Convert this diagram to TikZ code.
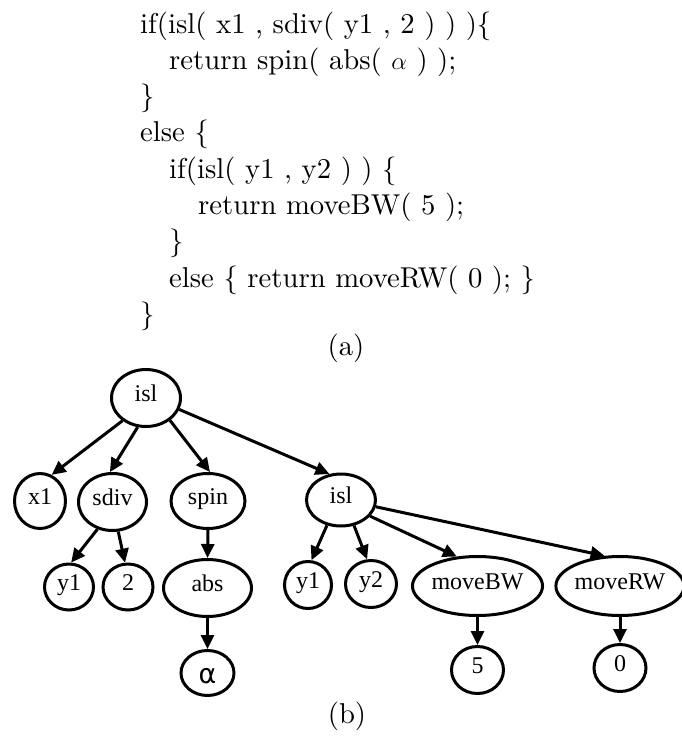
\documentclass[tikz,border=0pt]{standalone}
\usepackage{fontspec}
\setmainfont{lmroman10-regular.otf}
\newfontfamily\labelfont{Liberation Serif}
\newfontfamily\greekfont{DejaVu Sans}
\usetikzlibrary{shapes.geometric,arrows.meta}
\begin{document}
\begin{tikzpicture}[x=1pt,y=-1pt,
  codeline/.style={anchor=base west,inner sep=0pt,font=\fontsize{28.7}{36}\selectfont},
  caption/.style={anchor=base,inner sep=0pt,font=\fontsize{28.7}{36}\selectfont},
  tn/.style={draw,ellipse,line width=3pt,inner sep=0pt,
    font=\labelfont\fontsize{24}{28}\selectfont,text height=0.62em,text depth=0pt},
  edge/.style={line width=3pt,-{Triangle[length=14pt,width=13pt]}}
]
\useasboundingbox (0,0) rectangle (682,742);

% program listing
\node[codeline] (c1) at (140,33)  {if(isl( x1 , sdiv( y1 , 2 ) ) )\{};
\node[codeline] (c2) at (169,69.3) {return spin( abs( $\alpha$ ) );};
\node[codeline] (c3) at (140,105.6) {\}};
\node[codeline] (c4) at (140,141.9) {else \{};
\node[codeline] (c5) at (169,178.2) {if(isl( y1 , y2 ) ) \{};
\node[codeline] (c6) at (198,214.5) {return moveBW( 5 );};
\node[codeline] (c7) at (169,250.8) {\}};
\node[codeline] (c8) at (169,287.1) {else \{ return moveRW( 0 ); \}};
\node[codeline] (c9) at (140,323.4) {\}};
\node[caption] (capa) at (346,355) {(a)};

% expression tree
\node[tn,minimum width=69pt,minimum height=57pt] (root) at (146,398) {isl};
\node[tn,minimum width=51pt,minimum height=55pt] (x1) at (40,501) {x1};
\node[tn,minimum width=68pt,minimum height=57pt] (sdiv) at (112.5,502) {sdiv};
\node[tn,minimum width=74pt,minimum height=55pt] (spin) at (208,501) {spin};
\node[tn,minimum width=69pt,minimum height=52pt] (isl2) at (341,500) {isl};
\node[tn,minimum width=49pt,minimum height=46pt] (y1a) at (69,587) {y1};
\node[tn,minimum width=50pt,minimum height=46pt] (two) at (128,587) {2};
\node[tn,minimum width=88pt,minimum height=57pt] (abs) at (207.5,588) {abs};
\node[tn,minimum width=47pt,minimum height=47pt] (y1b) at (308,585) {y1};
\node[tn,minimum width=51pt,minimum height=47pt] (y2) at (371,584) {y2};
\node[tn,minimum width=126pt,minimum height=59pt] (mbw) at (477.5,586) {moveBW};
\node[tn,minimum width=123pt,minimum height=59pt] (mrw) at (620,586) {moveRW};
\node[tn,minimum width=53pt,minimum height=45pt,
      font=\greekfont\fontsize{27}{30}\selectfont,text height=21pt] (alpha) at (207.5,673) {α};
\node[tn,minimum width=52pt,minimum height=47pt] (five) at (477.5,670) {5};
\node[tn,minimum width=52pt,minimum height=47pt] (zero) at (620,668) {0};

\draw[edge] (root.224) -- (x1.66);
\draw[edge] (root.254) -- (sdiv.95);
\draw[edge] (root.317) -- (spin.86);
\draw[edge] (root.341) -- (isl2.114);
\draw[edge] (sdiv.241) -- (y1a.85);
\draw[edge] (sdiv.281) -- (two.97);
\draw[edge] (spin.south) -- (abs.north);
\draw[edge] (abs.south) -- (alpha.north);
\draw[edge] (isl2.241) -- (y1b.82);
\draw[edge] (isl2.297) -- (y2.99);
\draw[edge] (isl2.331) -- (mbw.125);
\draw[edge] (isl2.349) -- (mrw.117);
\draw[edge] (mbw.south) -- (five.north);
\draw[edge] (mrw.south) -- (zero.north);

\node[caption] (capb) at (347,723) {(b)};
\end{tikzpicture}
\end{document}
